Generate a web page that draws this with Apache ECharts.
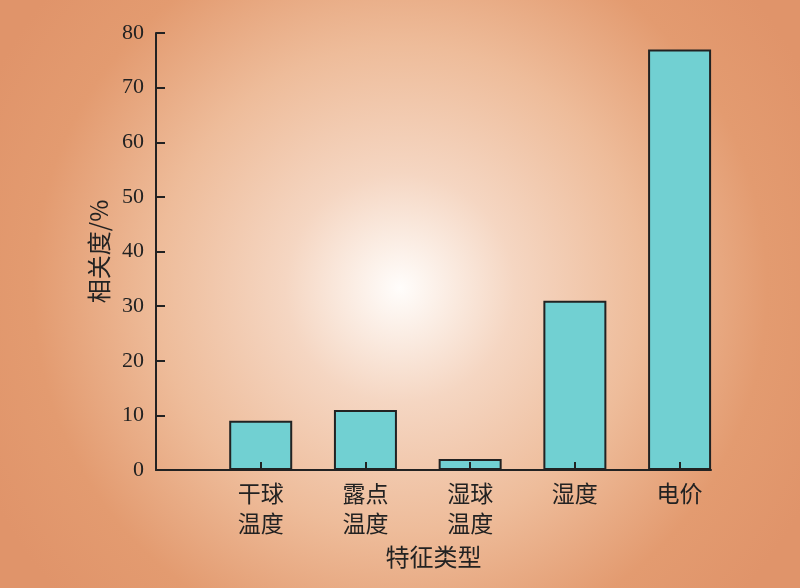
<!DOCTYPE html>
<html>
<head>
<meta charset="utf-8">
<script src="https://cdn.jsdelivr.net/npm/echarts@6/dist/echarts.min.js"></script>
<style>html,body{margin:0;padding:0;}#c{width:800px;height:588px;}</style>
</head>
<body>
<div id="c"></div>
<script>
var categories = ['干球\n温度', '露点\n温度', '湿球\n温度', '湿度', '电价'];
var values = [9, 11, 2, 31, 77];
var yTicks = [0, 10, 20, 30, 40, 50, 60, 70, 80];

var data = values.map(function (v, i) { return [i + 1, v]; });
var chart = echarts.init(document.getElementById('c'));
var serif = '"Liberation Serif", "Noto Sans CJK SC", serif';
var cjk = '"Noto Sans CJK SC", "Liberation Serif", serif';
chart.setOption({
  animation: false,
  backgroundColor: {
    type: 'radial', x: 0.5, y: 0.49, r: 0.78,
    colorStops: [
      { offset: 0, color: '#FFFDFB' },
      { offset: 0.25, color: '#F5D6C2' },
      { offset: 0.53, color: '#EEBC9A' },
      { offset: 0.8, color: '#E39B70' },
      { offset: 1, color: '#E0946A' }
    ]
  },
  grid: { left: 156, right: 89, top: 33, bottom: 118, containLabel: false },
  xAxis: {
    type: 'value', min: 0, max: 5.3, interval: 1, z: 5,
    splitLine: { show: false },
    axisLine: { show: true, lineStyle: { color: '#222', width: 2 } },
    axisTick: { show: true, inside: true, length: 8, lineStyle: { color: '#222', width: 2 } },
    axisLabel: {
      showMaxLabel: false, margin: 8,
      color: '#222', fontSize: 23, fontFamily: cjk, lineHeight: 30,
      formatter: function (v) {
        var i = Math.round(v);
        if (Math.abs(v - i) > 1e-6 || i < 1 || i > categories.length) return '';
        return categories[i - 1];
      }
    },
    name: '特征类型', nameLocation: 'middle', nameGap: 75,
    nameTextStyle: { color: '#222', fontSize: 24, fontFamily: cjk }
  },
  yAxis: {
    type: 'value', min: 0, max: 80, interval: 10, z: 5,
    splitLine: { show: false },
    axisLine: { show: true, lineStyle: { color: '#222', width: 2 } },
    axisTick: { show: true, inside: true, length: 9, lineStyle: { color: '#222', width: 2 } },
    axisLabel: {
      margin: 12, color: '#222', fontSize: 22, fontFamily: serif,
      formatter: function (v) { return yTicks.indexOf(v) >= 0 ? String(v) : ''; }
    },
    name: '相关度/%', nameLocation: 'middle', nameGap: 44, nameRotate: 90,
    nameTextStyle: { color: '#222', fontSize: 24, fontFamily: cjk }
  },
  series: [{
    type: 'bar', data: data, barWidth: 63,
    itemStyle: { color: '#71D0D2', borderColor: '#222', borderWidth: 2 }
  }]
});
</script>
</body>
</html>
